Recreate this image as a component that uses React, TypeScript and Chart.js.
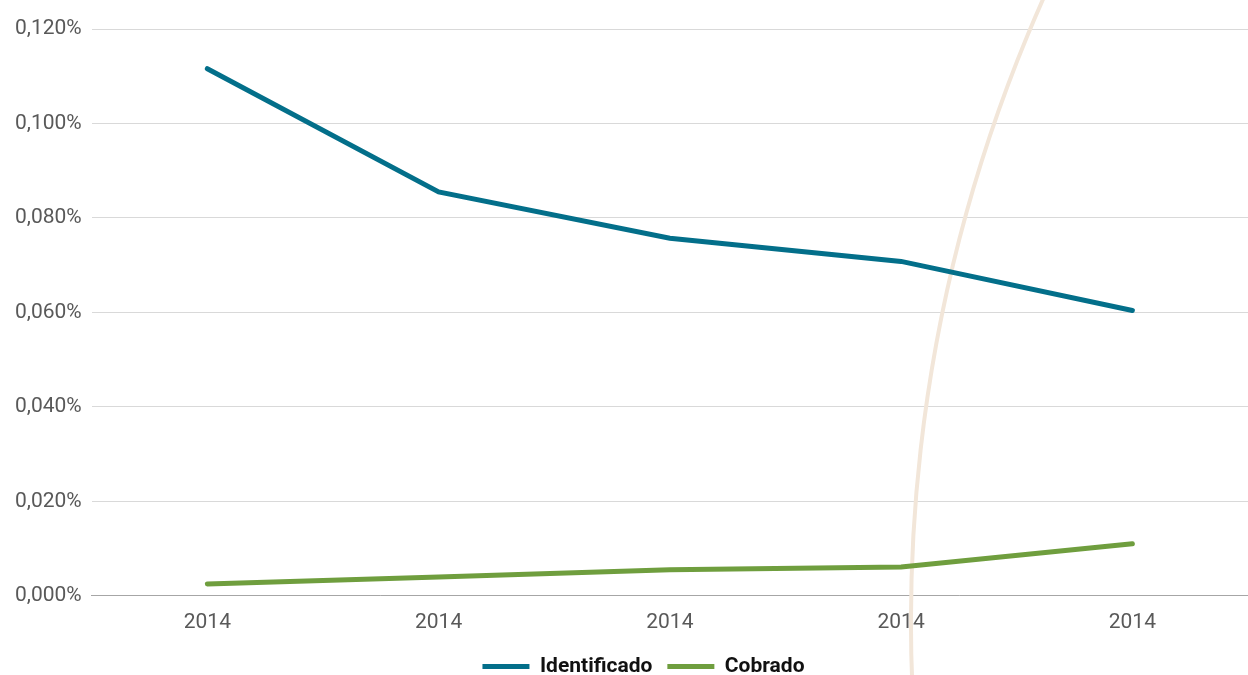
import React, { useEffect, useRef } from "react";
import { Chart, registerables } from "chart.js";

Chart.register(...registerables);

const categories = ["2014", "2014", "2014", "2014", "2014"];
const identificado = [0.1116, 0.0855, 0.0757, 0.0708, 0.0604];
const cobrado = [0.0025, 0.004, 0.0055, 0.0061, 0.011];
const yTicks = [0, 0.02, 0.04, 0.06, 0.08, 0.1, 0.12];

const FONT = "Roboto, 'Liberation Sans', sans-serif";

const arcPlugin = {
  id: "decorArc",
  beforeDatasetsDraw(chart: any) {
    const ctx = chart.ctx;
    ctx.save();
    ctx.strokeStyle = "#F2E6D9";
    ctx.lineWidth = 4;
    ctx.beginPath();
    ctx.arc(2441, 621, 1530, Math.PI * 0.95, Math.PI * 1.3, false);
    ctx.stroke();
    ctx.restore();
  },
};

const legendShift = {
  id: "legendShift",
  afterLayout(chart: any) {
    const l = chart.legend;
    if (l) {
      l.left += 17;
      l.right += 17;
    }
  },
};

export default function App() {
  const ref = useRef<HTMLCanvasElement>(null);
  useEffect(() => {
    document.body.style.margin = "0";
    const chart = new Chart(ref.current!, {
      type: "line",
      data: {
        labels: categories,
        datasets: [
          {
            label: "Identificado",
            data: identificado,
            borderColor: "#036F8A",
            backgroundColor: "#036F8A",
            borderWidth: 5,
            borderCapStyle: "round",
            pointRadius: 0,
            tension: 0,
          },
          {
            label: "Cobrado",
            data: cobrado,
            borderColor: "#6F9E3E",
            backgroundColor: "#6F9E3E",
            borderWidth: 5,
            borderCapStyle: "round",
            pointRadius: 0,
            tension: 0,
          },
        ],
      },
      options: {
        animation: false,
        responsive: false,
        layout: { padding: { top: 29, left: 5, right: 0, bottom: 0 } },
        plugins: {
          tooltip: { enabled: false },
          legend: {
            position: "bottom",
            labels: {
              usePointStyle: true,
              pointStyle: "line",
              pointStyleWidth: 47,
              color: "#111",
              padding: 15,
              font: { family: FONT, size: 21, weight: "bold" },
            },
          },
        },
        scales: {
          x: {
            offset: true,
            grid: { display: false },
            border: { color: "#A6A6A6", width: 1 },
            ticks: {
              color: "#595959",
              padding: 6,
              font: { family: FONT, size: 21 },
              maxRotation: 0,
              autoSkip: false,
            },
          },
          y: {
            min: 0,
            max: 0.12,
            afterBuildTicks: (axis: any) => {
              axis.ticks = yTicks.map((v) => ({ value: v }));
            },
            grid: { color: "#D9D9D9", lineWidth: 1, drawTicks: false },
            border: { display: false },
            ticks: {
              color: "#595959",
              padding: 10,
              font: { family: FONT, size: 21 },
              callback: (v: any) => Number(v).toFixed(3).replace(".", ",") + "%",
            },
          },
        },
      },
      plugins: [arcPlugin, legendShift],
    } as any);
    return () => chart.destroy();
  }, []);
  return (
    <div style={{ width: 1248, height: 675, overflow: "hidden" }}>
      <canvas ref={ref} width={1248} height={687} style={{ display: "block" }} />
    </div>
  );
}
